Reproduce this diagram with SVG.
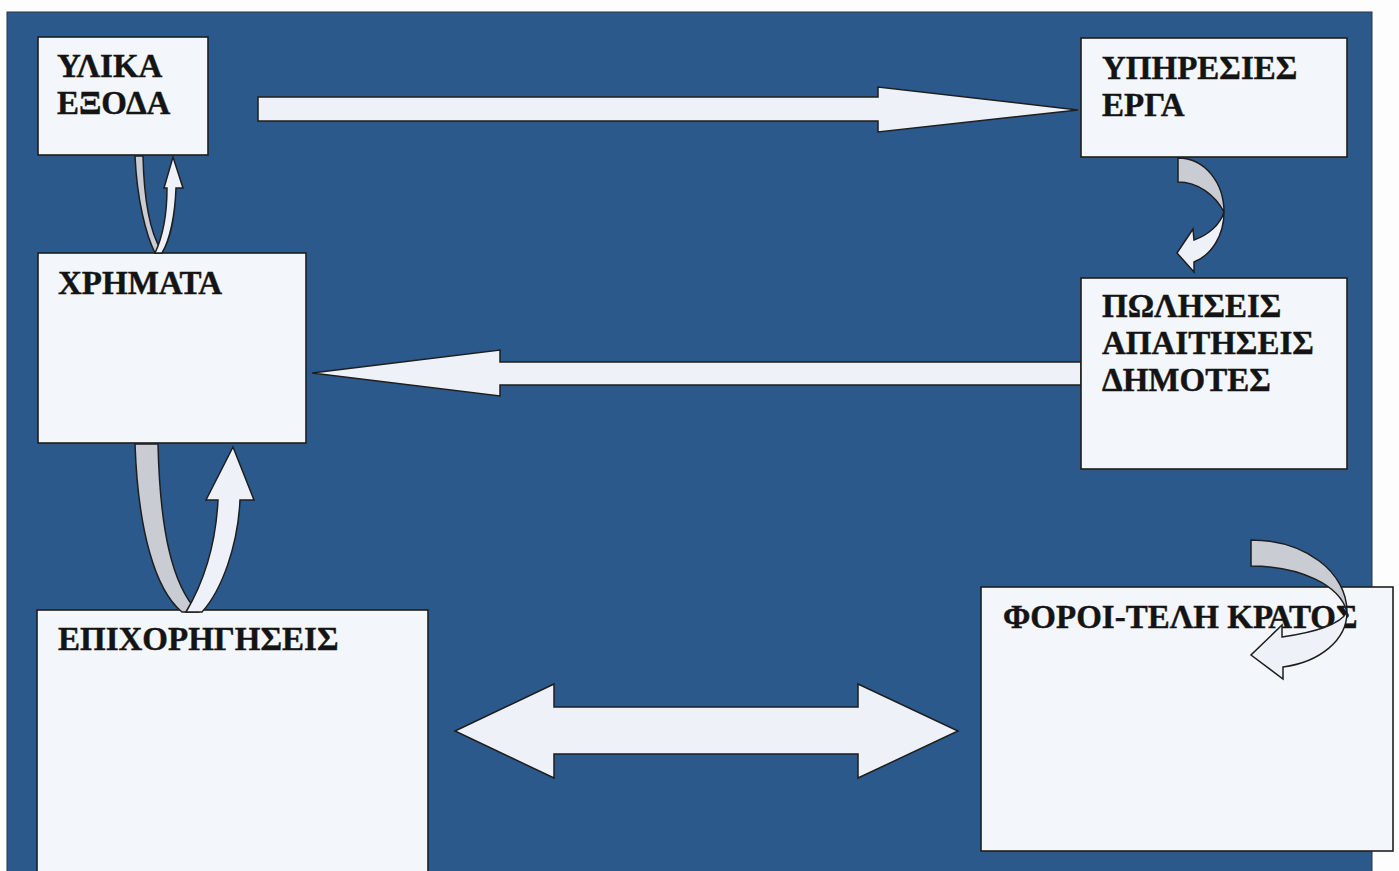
<svg xmlns="http://www.w3.org/2000/svg" width="1399" height="871" viewBox="0 0 1399 871">
<style>
.box{fill:#f3f6fb;stroke:#1e1e1e;stroke-width:1.6}
.lbl{font-family:"Liberation Serif","Times New Roman",serif;font-weight:bold;font-size:33px;fill:#141414;stroke:#141414;stroke-width:0.4}
.arr{fill:#eef2f8;stroke:#1e1e1e;stroke-width:1.5;stroke-linejoin:miter}
.back{fill:#c9ccd2;stroke:#1e1e1e;stroke-width:1.5}
</style>
<rect x="0" y="0" width="1399" height="871" fill="#fdfdfd"/>
<rect x="7" y="12" width="1365" height="870" fill="#2c598c" stroke="#2a3442" stroke-width="1"/>

<g id="connectors">
  <path class="arr" d="M258,97 L878,97 L878,87 L1078,110 L878,132 L878,121 L258,121 Z"/>
  <path class="arr" d="M1081,362 L500,362 L500,350 L312,373 L500,396 L500,385 L1081,385 Z"/>
  <path class="arr" d="M455,731 L554,684 L554,707 L858,707 L858,684 L958,731 L858,778 L858,754 L554,754 L554,778 Z"/>
</g>

<g id="n-ylika">
  <rect class="box" x="38" y="37" width="170" height="118"/>
  <text class="lbl" x="57" y="77">ΥΛΙΚΑ</text>
  <text class="lbl" x="57" y="114">ΕΞΟΔΑ</text>
</g>
<g id="n-ypiresies">
  <rect class="box" x="1081" y="38" width="266" height="119"/>
  <text class="lbl" x="1102" y="79">ΥΠΗΡΕΣΙΕΣ</text>
  <text class="lbl" x="1102" y="116">ΕΡΓΑ</text>
</g>
<g id="n-xrimata">
  <rect class="box" x="38" y="253" width="268" height="190"/>
  <text class="lbl" x="58" y="294">ΧΡΗΜΑΤΑ</text>
</g>
<g id="n-poliseis">
  <rect class="box" x="1081" y="278" width="266" height="191"/>
  <text class="lbl" x="1102" y="317">ΠΩΛΗΣΕΙΣ</text>
  <text class="lbl" x="1102" y="354">ΑΠΑΙΤΗΣΕΙΣ</text>
  <text class="lbl" x="1102" y="391">ΔΗΜΟΤΕΣ</text>
</g>
<g id="n-epixorigiseis">
  <rect class="box" x="37" y="610" width="391" height="262"/>
  <text class="lbl" x="58" y="650">ΕΠΙΧΟΡΗΓΗΣΕΙΣ</text>
</g>
<g id="n-foroi">
  <rect class="box" x="981" y="587" width="412" height="264"/>
  <text class="lbl" x="1003" y="628">ΦΟΡΟΙ-ΤΕΛΗ ΚΡΑΤΟΣ</text>
</g>

<g id="curved-connectors">
  <path class="back" d="M135,156 L143,156 C144,200 150,232 161,250 L155,253 C146,235 137,200 135,156 Z"/>
  <path class="arr" d="M155,253 C163,236 167,212 167,188 L164,188 L173,157 L183,188 L176,188 C175,215 170,240 162,253 Z"/>
  <path class="back" d="M135,444 L158,444 C160,530 172,585 198,612 L182,612 C155,590 138,530 135,444 Z"/>
  <path class="arr" d="M186,612 C205,580 216,540 218,500 L206,500 L233,447 L254,500 L240,500 C238,545 222,590 202,612 Z"/>
  <path class="back" d="M1178,158 C1205,158 1224,183 1224,212 C1215,195 1198,182 1178,182 Z"/>
  <path class="arr" d="M1224,212 C1224,235 1212,255 1194,262 L1194,272 L1177,253 L1193,229 L1194,240 C1208,235 1220,225 1224,212 Z"/>
  <path class="back" d="M1251,540 C1305,540 1347,572 1347,612 C1340,585 1300,566 1251,566 Z"/>
  <path class="arr" d="M1347,612 C1347,640 1320,662 1283,667 L1283,679 L1251,655 L1282,625 L1282,637 C1315,632 1340,625 1347,612 Z"/>
</g>
</svg>
